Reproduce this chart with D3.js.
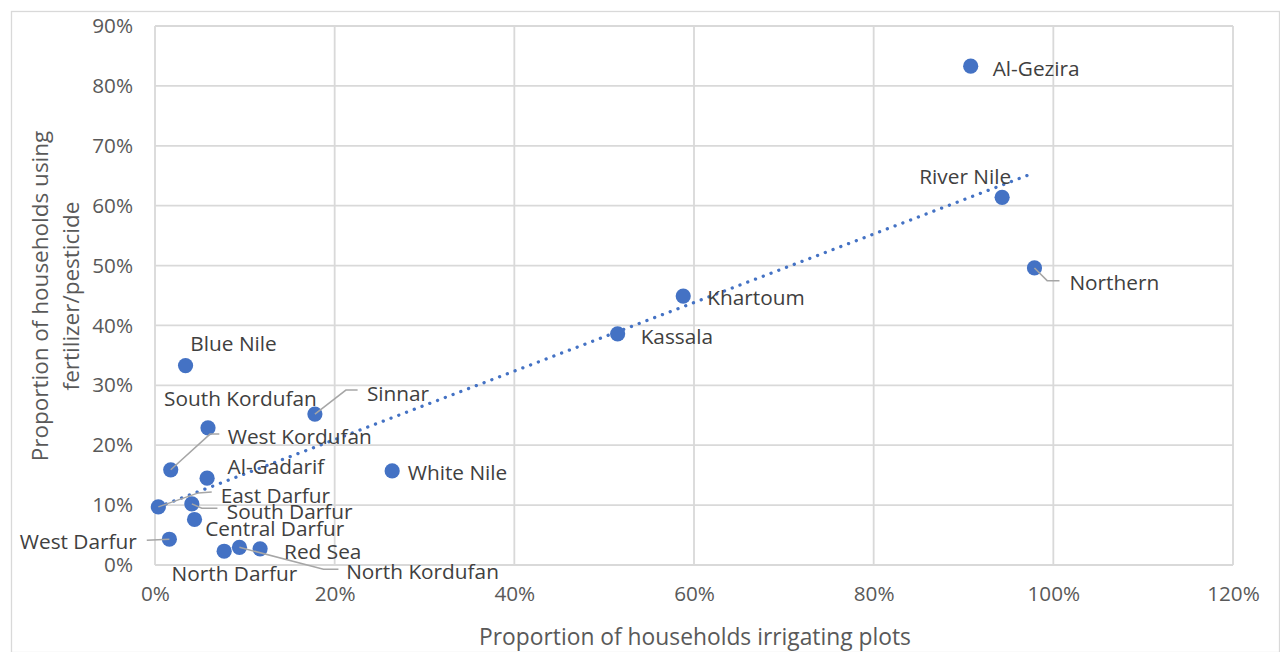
<!DOCTYPE html>
<html>
<head>
<meta charset="utf-8">
<script src="https://cdn.jsdelivr.net/npm/d3@7"></script>
<style>
  html, body { margin: 0; padding: 0; background: #fff; }
  svg { display: block; }
  text { font-family: "Open Sans", "Segoe UI", sans-serif; }
</style>
</head>
<body>
<svg id="chart" width="1280" height="652"></svg>
<script>
// ---- data (percent) ----
const regions = ["Al-Gezira","River Nile","Northern","Khartoum","Kassala","Blue Nile","Sinnar","South Kordufan","West Kordufan","White Nile","Al-Gadarif","East Darfur","South Darfur","Central Darfur","West Darfur","North Darfur","North Kordufan","Red Sea"];
const irrigating = [90.8, 94.3, 97.9, 58.8, 51.5, 3.4, 17.8, 5.9, 1.75, 26.4, 5.8, 0.37, 4.1, 4.4, 1.6, 7.7, 9.4, 11.7];
const fertilizer = [83.3, 61.4, 49.6, 44.9, 38.6, 33.3, 25.2, 22.9, 15.9, 15.7, 14.5, 9.7, 10.2, 7.6, 4.3, 2.3, 2.95, 2.7];
const trendX = [0.37, 97.9];
const trendY = [9.7, 65.5];
const xTicks = [0, 20, 40, 60, 80, 100, 120];
const yTicks = [0, 10, 20, 30, 40, 50, 60, 70, 80, 90];
const xTitle = "Proportion of households irrigating plots";
const yTitle = ["Proportion of households using", "fertilizer/pesticide"];

// ---- label placement (layout only) ----
const labelLayout = {
  "Al-Gezira":      {a:"start",  dx:22,   dy:2},
  "River Nile":     {a:"end",    dx:9,    dy:-21.5},
  "Northern":       {a:"start",  dx:35,   dy:14.5, leader:[[0,0],[12.7,12.7],[25,12.7]]},
  "Khartoum":       {a:"start",  dx:24,   dy:1},
  "Kassala":        {a:"start",  dx:23,   dy:2},
  "Blue Nile":      {a:"middle", dx:48,   dy:-22.5},
  "South Kordufan": {a:"middle", dx:32.5, dy:-29.5},
  "Sinnar":         {a:"start",  dx:52,   dy:-21.3, leader:[[0,0],[31,-24],[42.7,-24]]},
  "West Kordufan":  {a:"start",  dx:57,   dy:-33.3, leader:[[0,0],[39.3,-35.7],[48.6,-35.7]]},
  "Al-Gadarif":     {a:"start",  dx:20.4, dy:-12.6},
  "White Nile":     {a:"start",  dx:15.6, dy:1},
  "East Darfur":    {a:"start",  dx:62.4, dy:-12.4, leader:[[0,0],[40,-14],[53.4,-15]]},
  "South Darfur":   {a:"start",  dx:35,   dy:6.7,  leader:[[0,0],[10,4.3],[25.6,4.3]]},
  "Central Darfur": {a:"start",  dx:10.7, dy:9},
  "West Darfur":    {a:"end",    dx:-32.6,dy:1.7,  leader:[[0,0],[-22.6,1]]},
  "North Darfur":   {a:"middle", dx:10.2, dy:21.7},
  "Red Sea":        {a:"start",  dx:24,   dy:1.7},
  "North Kordufan": {a:"start",  dx:106.7,dy:23.4, leader:[[0,0],[84,22],[99,22]]}
};

const svg = d3.select("#chart");
const W = 1280, H = 652;
const pLeft = 155, pRight = 1233, pTop = 26, pBottom = 565;

const x = d3.scaleLinear().domain([0, 120]).range([pLeft, pRight]);
const y = d3.scaleLinear().domain([0, 90]).range([pBottom, pTop]);

// outer chart frame
svg.append("rect").attr("x", 11.5).attr("y", 11.5).attr("width", W - 12).attr("height", H - 11)
  .attr("fill", "#fff").attr("stroke", "#d9d9d9").attr("stroke-width", 1.3);

// gridlines
const grid = svg.append("g");
grid.selectAll("line.v").data(xTicks).enter().append("line")
  .attr("x1", d => x(d)).attr("x2", d => x(d)).attr("y1", pTop).attr("y2", pBottom)
  .attr("stroke", "#d9d9d9").attr("stroke-width", 1.8);
grid.selectAll("line.h").data(yTicks).enter().append("line")
  .attr("x1", pLeft).attr("x2", pRight).attr("y1", d => y(d)).attr("y2", d => y(d))
  .attr("stroke", "#d9d9d9").attr("stroke-width", 1.8);

// axes (labels only)
const fmt = d => d + "%";
const xAxis = d3.axisBottom(x).tickValues(xTicks).tickFormat(fmt).tickSize(0).tickPadding(21);
const gx = svg.append("g").attr("transform", `translate(0,${pBottom})`).call(xAxis);
gx.select(".domain").remove();
gx.selectAll("text").attr("font-size", 20.7).attr("fill", "#595959")
  .attr("font-family", '"Open Sans", sans-serif');

const yAxis = d3.axisLeft(y).tickValues(yTicks).tickFormat(fmt).tickSize(0).tickPadding(22);
const gy = svg.append("g").attr("transform", `translate(${pLeft},0)`).call(yAxis);
gy.select(".domain").remove();
gy.selectAll("text").attr("font-size", 20.7).attr("fill", "#595959")
  .attr("font-family", '"Open Sans", sans-serif');

// axis titles
svg.append("text").attr("x", 695).attr("y", 636)
  .attr("text-anchor", "middle").attr("dominant-baseline", "central")
  .attr("font-size", 22.8).attr("fill", "#595959").text(xTitle);
const yt = svg.append("text").attr("transform", `translate(0,296) rotate(-90)`)
  .attr("text-anchor", "middle").attr("font-size", 22.5).attr("fill", "#595959");
yt.append("tspan").attr("x", 0).attr("y", 39).attr("dominant-baseline", "central").text(yTitle[0]);
yt.append("tspan").attr("x", 0).attr("y", 70).attr("dominant-baseline", "central").text(yTitle[1]);

// trendline
const trendData = trendX.map((v, i) => [v, trendY[i]]);
svg.append("path").datum(trendData)
  .attr("d", d3.line().x(d => x(d[0])).y(d => y(d[1])))
  .attr("fill", "none").attr("stroke", "#4472c4").attr("stroke-width", 3.3)
  .attr("stroke-linecap", "round").attr("stroke-dasharray", "0.1 8.2");

// points
const pts = regions.map((r, i) => ({name: r, px: x(irrigating[i]), py: y(fertilizer[i])}));

svg.append("g").selectAll("circle").data(pts).enter().append("circle")
  .attr("cx", p => p.px).attr("cy", p => p.py).attr("r", 7.6).attr("fill", "#4472c4");

// leader lines
svg.append("g").selectAll("path").data(pts.filter(p => labelLayout[p.name].leader)).enter()
  .append("path")
  .attr("d", p => d3.line()(labelLayout[p.name].leader.map(o => [p.px + o[0], p.py + o[1]])))
  .attr("fill", "none").attr("stroke", "#a6a6a6").attr("stroke-width", 1.5);

// labels
svg.append("g").selectAll("text").data(pts).enter().append("text")
  .attr("x", p => p.px + labelLayout[p.name].dx)
  .attr("y", p => p.py + labelLayout[p.name].dy)
  .attr("text-anchor", p => labelLayout[p.name].a)
  .attr("dominant-baseline", "central")
  .attr("font-size", 20.8).attr("fill", "#404040")
  .text(p => p.name);
</script>
</body>
</html>
